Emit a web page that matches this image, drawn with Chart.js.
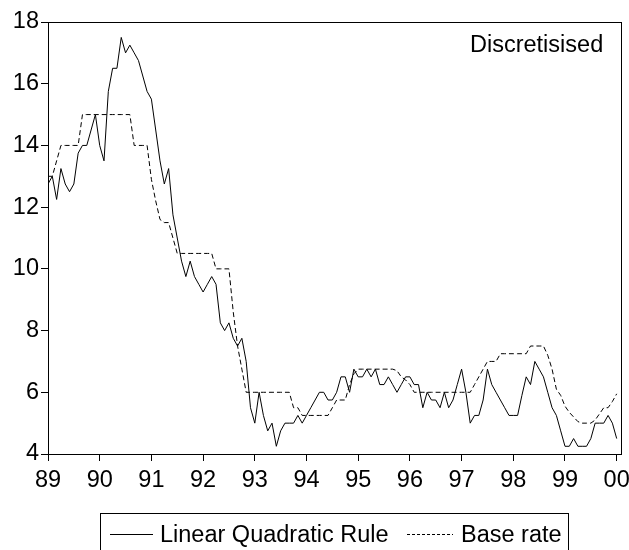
<!DOCTYPE html>
<html lang="en">
<head>
  <meta charset="UTF-8" />
  <title>Discretisised</title>
  <script src="https://cdn.jsdelivr.net/npm/chart.js"></script>
  <style>
    html, body { margin: 0; padding: 0; background: #fff; overflow: hidden; }
    body { font-family: 'Liberation Sans', Arial, sans-serif; color: #000; }
    .wrap { position: relative; width: 660px; height: 550px; }
    .note { position: absolute; left: 470px; top: 31px; font-size: 23.5px; line-height: 26px; }
    .legend { position: absolute; left: 100px; top: 513px; width: 467px; height: 60px; border: 1px solid #000; }
    .legend span { position: absolute; top: 7px; font-size: 23.5px; line-height: 26px; white-space: nowrap; }
    .legend svg { position: absolute; top: 15px; }
  </style>
</head>

<body>
  <div class="wrap">
    <canvas id="chart" width="660" height="550"></canvas>
    <div class="note">Discretisised</div>
    <div class="legend">
      <svg style="left:9px" width="43" height="10"><line x1="0" y1="5.5" x2="43" y2="5.5" stroke="#000" stroke-width="1" /></svg>
      <span style="left:59px">Linear Quadratic Rule</span>
      <svg style="left:306px" width="46" height="10"><line x1="0" y1="5.5" x2="46" y2="5.5" stroke="#000" stroke-width="1" stroke-dasharray="3,2" /></svg>
      <span style="left:360px">Base rate</span>
    </div>
  </div>

  <script>
    // monthly, Jan 1989 .. Jan 2000
    const linearQuadratic = [
      12.75, 13, 12.25, 13.25, 12.75, 12.5, 12.75, 13.75, 14, 14, 14.5, 15,
      14, 13.5, 15.75, 16.5, 16.5, 17.5, 17, 17.25, 17, 16.75, 16.25, 15.75,
      15.5, 14.5, 13.5, 12.75, 13.25, 11.75, 11, 10.25, 9.75, 10.25, 9.75, 9.5,
      9.25, 9.5, 9.75, 9.5, 8.25, 8, 8.25, 7.75, 7.5, 7.75, 7, 5.5,
      5, 6, 5.25, 4.75, 5, 4.25, 4.75, 5, 5, 5, 5.25, 5,
      5.25, 5.5, 5.75, 6, 6, 5.75, 5.75, 6, 6.5, 6.5, 6, 6.75,
      6.5, 6.5, 6.75, 6.5, 6.75, 6.25, 6.25, 6.5, 6.25, 6, 6.25, 6.5,
      6.5, 6.25, 6.25, 5.5, 6, 5.75, 5.75, 5.5, 6, 5.5, 5.75, 6.25,
      6.75, 6, 5, 5.25, 5.25, 5.75, 6.75, 6.25, 6, 5.75, 5.5, 5.25,
      5.25, 5.25, 5.9, 6.5, 6.25, 7, 6.75, 6.5, 6, 5.5, 5.25, 4.75,
      4.25, 4.25, 4.5, 4.25, 4.25, 4.25, 4.5, 5, 5, 5, 5.25, 5,
      4.5
    ];

    const baseRate = [
      13, 13, 13.5, 14, 14, 14, 14, 14, 15, 15, 15, 15,
      15, 15, 15, 15, 15, 15, 15, 15, 14, 14, 14, 14,
      12.9, 12.2, 11.6, 11.5, 11.5, 11, 10.5, 10.5, 10.5, 10.5, 10.5, 10.5,
      10.5, 10.5, 10.5, 10, 10, 10, 10, 8.6, 7.5, 6.75, 6, 6,
      6, 6, 6, 6, 6, 6, 6, 6, 6, 5.5, 5.5, 5.25,
      5.25, 5.25, 5.25, 5.25, 5.25, 5.25, 5.5, 5.75, 5.75, 5.75, 6.25, 6.6,
      6.75, 6.75, 6.75, 6.75, 6.75, 6.75, 6.75, 6.75, 6.75, 6.7, 6.5, 6.4,
      6.25, 6, 6, 6, 6, 6, 6, 6, 6, 6, 6, 6,
      6, 6, 6, 6.25, 6.5, 6.75, 7, 7, 7, 7.25, 7.25, 7.25,
      7.25, 7.25, 7.25, 7.25, 7.5, 7.5, 7.5, 7.5, 7.2, 6.75, 6.1, 5.9,
      5.55, 5.35, 5.2, 5.05, 5, 5, 5, 5.1, 5.3, 5.5, 5.5, 5.7,
      5.95
    ];

    const yearLabels = ['89', '90', '91', '92', '93', '94', '95', '96', '97', '98', '99', '00'];
    const yTicks = [4, 6, 8, 10, 12, 14, 16, 18];

    const toPoints = arr => arr.map((v, i) => ({ x: i, y: v }));

    const frame = {
      id: 'frame',
      afterDraw(chart) {
        const { ctx, chartArea: a } = chart;
        ctx.save();
        ctx.strokeStyle = '#000';
        ctx.lineWidth = 1;
        ctx.strokeRect(Math.round(a.left) + 0.5, Math.round(a.top) + 0.5,
          Math.round(a.right - a.left), Math.round(a.bottom - a.top));
        ctx.restore();
      }
    };

    Chart.defaults.font.family = "'Liberation Sans', Arial, sans-serif";
    Chart.defaults.font.size = 23.5;
    Chart.defaults.color = '#000';

    new Chart(document.getElementById('chart'), {
      type: 'line',
      data: {
        datasets: [
          {
            label: 'Linear Quadratic Rule',
            data: toPoints(linearQuadratic),
            borderColor: '#000',
            borderWidth: 1,
            pointRadius: 0,
            tension: 0
          },
          {
            label: 'Base rate',
            data: toPoints(baseRate),
            borderColor: '#000',
            borderWidth: 1,
            borderDash: [5, 3],
            pointRadius: 0,
            tension: 0
          }
        ]
      },
      options: {
        responsive: false,
        animation: false,
        layout: { padding: { top: 22, right: 39, left: 0, bottom: 0 } },
        plugins: { legend: { display: false }, tooltip: { enabled: false } },
        scales: {
          x: {
            type: 'linear',
            min: 0,
            max: 133,
            afterFit: s => { s.height = 96; },
            afterBuildTicks: s => { s.ticks = yearLabels.map((_, i) => ({ value: i * 12 })); },
            ticks: {
              autoSkip: false,
              maxRotation: 0,
              padding: 5,
              callback: (v) => yearLabels[v / 12]
            },
            grid: { drawOnChartArea: false, drawTicks: true, tickLength: 7, color: '#000' },
            border: { display: false }
          },
          y: {
            min: 4,
            max: 18,
            afterFit: s => { s.width = 48; },
            afterBuildTicks: s => { s.ticks = yTicks.map(v => ({ value: v })); },
            ticks: { padding: 2 },
            grid: { drawOnChartArea: false, drawTicks: true, tickLength: 7, color: '#000' },
            border: { display: false }
          }
        }
      },
      plugins: [frame]
    });
  </script>
</body>
</html>
